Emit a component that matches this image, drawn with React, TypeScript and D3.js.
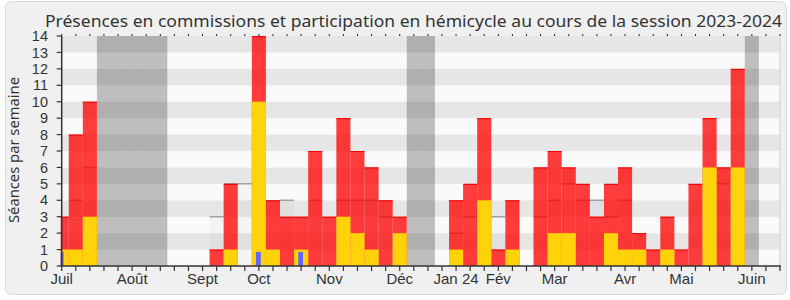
import React from 'react';
import * as d3 from 'd3';

// ---- data ----
const TITLE = "Présences en commissions et participation en hémicycle au cours de la session 2023-2024";
const Y_LABEL = "Séances par semaine";
const WEEK_COUNT = 52;
const presence = [3, 8, 10, 0, 0, 0, 0, 0, 0, 0, 0, 1, 5, 0, 14, 4, 3, 3, 7, 3, 9, 7, 6, 4, 3, 0, 0, 0, 4, 5, 9, 1, 4, 0, 6, 7, 6, 5, 3, 5, 6, 2, 1, 3, 1, 5, 9, 6, 12, 0, 0, 0];
const hemicycle = [1, 1, 3, 0, 0, 0, 0, 0, 0, 0, 0, 0, 1, 0, 10, 1, 0, 1, 0, 0, 3, 2, 1, 0, 2, 0, 0, 0, 1, 0, 4, 0, 1, 0, 0, 2, 2, 0, 0, 2, 1, 1, 0, 1, 0, 0, 6, 0, 6, 0, 0, 0];
const median = [0, 4, 6, 0, 0, 0, 0, 0, 0, 0, 0, 3, 5, 5, 0, 0, 4, 0, 4, 0, 4, 4, 4, 3, 0, 0, 0, 0, 2, 3, 0, 3, 0, 0, 3, 4, 5, 4, 4, 3, 4, 0, 0, 0, 0, 0, 0, 5, 0, 0, 0, 0];
const questionWeeks = [0, 14, 17];
const questionValues = [0.85, 0.85, 0.85];
const vacationWeeks = [3, 4, 5, 6, 7, 25, 26, 49];
const monthLabels = ["Juil", "Août", "Sept", "Oct", "Nov", "Déc", "Jan 24", "Fév", "Mar", "Avr", "Mai", "Juin"];
const monthWeeks = [0, 5, 10, 14, 19, 24, 28, 31, 35, 40, 44, 49];
const yTicks = d3.range(0, 15);

const W = 790, H = 300;
const M = { left: 61.7, right: 780, top: 36, bottom: 266 };
const FONT = "'Noto Sans', 'DejaVu Sans', sans-serif";
const TICK_FONT = "'Liberation Sans', Arial, sans-serif";

export default function App() {
  const x = d3.scaleLinear().domain([0, WEEK_COUNT - 1]).range([M.left, M.right]);
  const y = d3.scaleLinear().domain([0, 14]).range([M.bottom, M.top]);
  const bw = x(1) - x(0);
  const weeks = d3.range(WEEK_COUNT);

  return (
    <svg width={W} height={H} style={{ position: 'absolute', left: 0, top: 0, background: '#fff' }}>
      <defs>
        <clipPath id="plot">
          <rect x={M.left - 1} y={M.top} width={M.right - M.left + 1} height={M.bottom - M.top} />
        </clipPath>
      </defs>
      <rect x={5.5} y={1.5} width={781} height={293} rx={6} fill="#F0F0F0" stroke="#DADADA" />
      <text x={413.5} y={27} textAnchor="middle" fontFamily={FONT} fontSize={17} fill="#333"
        textLength={737} lengthAdjust="spacingAndGlyphs">{TITLE}</text>

      <g clipPath="url(#plot)">
        {yTicks.slice(0, -1).map(v => (
          <rect key={'s' + v} x={M.left} y={y(v + 1)} width={M.right - M.left} height={y(v) - y(v + 1)}
            fill={v % 2 === 1 ? '#E6E6E6' : '#FAFAFA'} />
        ))}
        {vacationWeeks.map(w => (
          <rect key={'v' + w} x={x(w) - bw / 2} y={M.top} width={bw} height={M.bottom - M.top} fill="#000" fillOpacity={0.24} />
        ))}
        {weeks.filter(w => median[w] > 0).map(w => (
          <g key={'m' + w}>
            <rect x={x(w) - bw / 2} y={y(median[w])} width={bw} height={y(0) - y(median[w])} fill="#000" fillOpacity={0.025} />
            <line x1={x(w) - bw / 2} x2={x(w) + bw / 2} y1={y(median[w])} y2={y(median[w])} stroke="#A0A0A0" strokeWidth={1.5} />
          </g>
        ))}
        {weeks.filter(w => presence[w] > 0).map(w => (
          <g key={'p' + w}>
            <rect x={x(w) - bw / 2} y={y(presence[w])} width={bw} height={y(0) - y(presence[w])} fill="#FF0000" fillOpacity={0.76} />
            <line x1={x(w) - bw / 2} x2={x(w) + bw / 2} y1={y(presence[w]) + 0.5} y2={y(presence[w]) + 0.5} stroke="#F00000" strokeWidth={1} />
          </g>
        ))}
        {weeks.filter(w => hemicycle[w] > 0).map(w => (
          <rect key={'h' + w} x={x(w) - bw / 2} y={y(hemicycle[w])} width={bw} height={y(0) - y(hemicycle[w])} fill="#FFD20A" />
        ))}
        {questionWeeks.map((w, i) => (
          <rect key={'q' + w} x={x(w) - bw * 0.17 - 0.5} y={y(questionValues[i])} width={bw * 0.34} height={y(0) - y(questionValues[i])} fill="#6464FF" />
        ))}
      </g>

      {/* right border */}
      <line x1={M.right} x2={M.right} y1={M.top} y2={M.bottom} stroke="#D0D0D0" />
      {/* top ticks */}
      {weeks.map(w => (
        <line key={'tt' + w} x1={x(w)} x2={x(w)} y1={M.top - 2} y2={M.top} stroke="#222" strokeWidth={1} />
      ))}
      {/* bottom axis */}
      <line x1={M.left - 1} x2={M.right + 1} y1={M.bottom} y2={M.bottom} stroke="#333" strokeWidth={1.5} />
      {weeks.map(w => (
        <line key={'bt' + w} x1={x(w)} x2={x(w)} y1={M.bottom} y2={M.bottom + 5} stroke="#333" strokeWidth={1.2} />
      ))}
      {monthLabels.map((m, i) => (
        <text key={'ml' + i} x={x(monthWeeks[i])} y={283.5} textAnchor="middle" fontFamily={TICK_FONT} fontSize={15} fill="#333">{m}</text>
      ))}
      {/* left axis */}
      <line x1={M.left} x2={M.left} y1={M.top} y2={M.bottom} stroke="#333" strokeWidth={1.5} />
      {yTicks.map(v => (
        <g key={'yt' + v}>
          <line x1={M.left - 5} x2={M.left} y1={y(v)} y2={y(v)} stroke="#333" strokeWidth={1.2} />
          <text x={48} y={y(v) + 5.2} textAnchor="end" fontFamily={TICK_FONT} fontSize={14.5} fill="#333">{v}</text>
        </g>
      ))}
      <text transform={`translate(18.5,150) rotate(-90)`} textAnchor="middle" fontFamily={FONT} fontSize={15} fill="#333"
        textLength={146} lengthAdjust="spacingAndGlyphs">{Y_LABEL}</text>
    </svg>
  );
}
